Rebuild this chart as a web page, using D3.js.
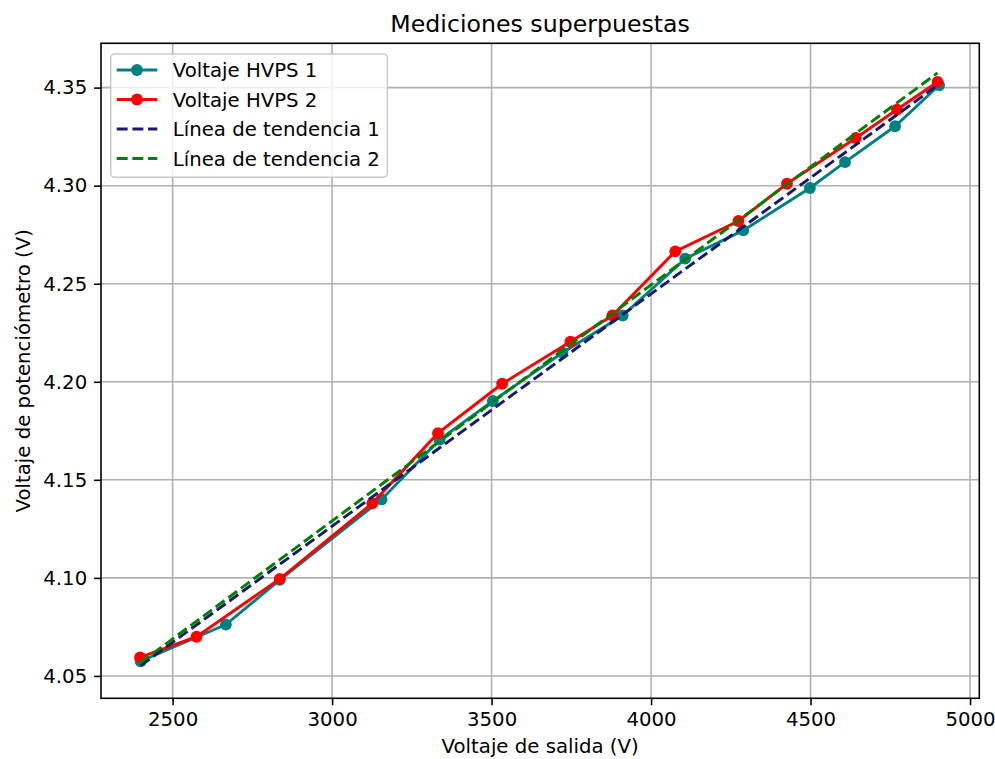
<!DOCTYPE html>
<html>
<head>
<meta charset="utf-8">
<script src="https://cdn.jsdelivr.net/npm/d3@7"></script>
<style>
  body { margin: 0; background: #fff; }
  text { font-family: "DejaVu Sans", sans-serif; fill: #000; }
</style>
</head>
<body>
<svg id="chart" width="995" height="759"></svg>
<script>
// ---- data ----
const hvps1X = [2400, 2667, 2836, 3155, 3337, 3504, 3722, 3911, 4107, 4289, 4498, 4608, 4765, 4903];
const hvps1Y = [4.0575, 4.0762, 4.0990, 4.1400, 4.1705, 4.1902, 4.2148, 4.2338, 4.2628, 4.2772, 4.2988, 4.3120, 4.3303, 4.3512];
const hvps2X = [2398, 2575, 2836, 3126, 3332, 3533, 3747, 3879, 4076, 4274, 4426, 4642, 4771, 4898];
const hvps2Y = [4.0595, 4.0700, 4.0995, 4.1380, 4.1738, 4.1990, 4.2204, 4.2338, 4.2665, 4.2820, 4.3010, 4.3243, 4.3388, 4.3529];
const trend1X = [2400, 4903];
const trend1Y = [4.0553, 4.3518];
const trend2X = [2398, 4898];
const trend2Y = [4.0566, 4.3575];
const xTicks = [2500, 3000, 3500, 4000, 4500, 5000];
const yTicks = [4.05, 4.10, 4.15, 4.20, 4.25, 4.30, 4.35];
const seriesNames = ["Voltaje HVPS 1", "Voltaje HVPS 2", "Línea de tendencia 1", "Línea de tendencia 2"];
const titleText = "Mediciones superpuestas";
const xLabelText = "Voltaje de salida (V)";
const yLabelText = "Voltaje de potenciómetro (V)";

// ---- layout ----
const svg = d3.select("#chart");
const L = 101, R = 979.3, T = 43.3, B = 698.3;
const x = d3.scaleLinear().domain([2275.5, 5029]).range([L, R]);
const y = d3.scaleLinear().domain([4.0386, 4.3726]).range([B, T]);

const pt = 142 / 72;
const lw = 1.5 * pt, ms = 3 * pt;
const fs = 10 * pt, tfs = 12 * pt;
const dash = `${3.7 * lw},${1.6 * lw}`;
const colors = ["#008080", "#ff0000", "#191970", "#008000"];

// grid
const g = svg.append("g");
g.selectAll(".gx").data(xTicks).enter().append("line")
  .attr("x1", d => x(d)).attr("x2", d => x(d)).attr("y1", T).attr("y2", B)
  .attr("stroke", "#b0b0b0").attr("stroke-width", 0.8 * pt);
g.selectAll(".gy").data(yTicks).enter().append("line")
  .attr("x1", L).attr("x2", R).attr("y1", d => y(d)).attr("y2", d => y(d))
  .attr("stroke", "#b0b0b0").attr("stroke-width", 0.8 * pt);

// axes
const tl = 3.5 * pt;
const xAxis = d3.axisBottom(x).tickValues(xTicks).tickFormat(d3.format("d")).tickSizeOuter(0).tickSize(tl).tickPadding(tl);
const yAxis = d3.axisLeft(y).tickValues(yTicks).tickFormat(d3.format(".2f")).tickSizeOuter(0).tickSize(tl).tickPadding(tl);
const gx = svg.append("g").attr("transform", `translate(0,${B})`).call(xAxis);
const gy = svg.append("g").attr("transform", `translate(${L},0)`).call(yAxis);
[gx, gy].forEach(a => {
  a.select(".domain").remove();
  a.selectAll(".tick line").attr("stroke", "#000").attr("stroke-width", 0.8 * pt);
  a.selectAll(".tick text").attr("font-family", "DejaVu Sans").attr("font-size", fs).attr("fill", "#000");
});

// clip
svg.append("clipPath").attr("id", "clip").append("rect").attr("x", L).attr("y", T).attr("width", R - L).attr("height", B - T);
const plot = svg.append("g").attr("clip-path", "url(#clip)");

const line = d3.line().x(d => x(d[0])).y(d => y(d[1]));
function drawSeries(xs, ys, color, dashed, markers) {
  const pts = xs.map((v, i) => [v, ys[i]]);
  plot.append("path").datum(pts).attr("d", line).attr("fill", "none")
    .attr("stroke", color).attr("stroke-width", lw)
    .attr("stroke-dasharray", dashed ? dash : null);
  if (markers) {
    plot.selectAll(null).data(pts).enter().append("circle")
      .attr("cx", d => x(d[0])).attr("cy", d => y(d[1])).attr("r", ms).attr("fill", color);
  }
}
drawSeries(hvps1X, hvps1Y, colors[0], false, true);
drawSeries(hvps2X, hvps2Y, colors[1], false, true);
drawSeries(trend1X, trend1Y, colors[2], true, false);
drawSeries(trend2X, trend2Y, colors[3], true, false);

// spines
svg.append("rect").attr("x", L).attr("y", T).attr("width", R - L).attr("height", B - T)
  .attr("fill", "none").attr("stroke", "#000").attr("stroke-width", 0.8 * pt);

// title & labels
svg.append("text").attr("x", (L + R) / 2).attr("y", 31.5).attr("text-anchor", "middle")
  .attr("font-size", tfs).text(titleText);
svg.append("text").attr("x", (L + R) / 2).attr("y", 753).attr("text-anchor", "middle")
  .attr("font-size", fs).text(xLabelText);
svg.append("text").attr("transform", `translate(22.5,${(T + B) / 2}) rotate(-90)`).attr("text-anchor", "middle")
  .attr("dy", "0.36em").attr("font-size", fs).text(yLabelText);

// legend
const lg = svg.append("g");
lg.append("rect").attr("x", 110.7).attr("y", 54).attr("width", 276.6).attr("height", 123.3)
  .attr("rx", 4).attr("fill", "#fff").attr("fill-opacity", 0.8).attr("stroke", "#cccccc").attr("stroke-width", 0.8 * pt);
const rowY = [70, 99.5, 129, 158.5];
seriesNames.forEach((name, i) => {
  const ly = rowY[i];
  lg.append("line").attr("x1", 116.7).attr("x2", 157.3).attr("y1", ly).attr("y2", ly)
    .attr("stroke", colors[i]).attr("stroke-width", lw)
    .attr("stroke-dasharray", i >= 2 ? dash : null);
  if (i < 2) lg.append("circle").attr("cx", 137).attr("cy", ly).attr("r", ms).attr("fill", colors[i]);
  lg.append("text").attr("x", 172.7).attr("y", ly).attr("dy", "0.36em").attr("font-size", fs).text(name);
});
</script>
</body>
</html>
